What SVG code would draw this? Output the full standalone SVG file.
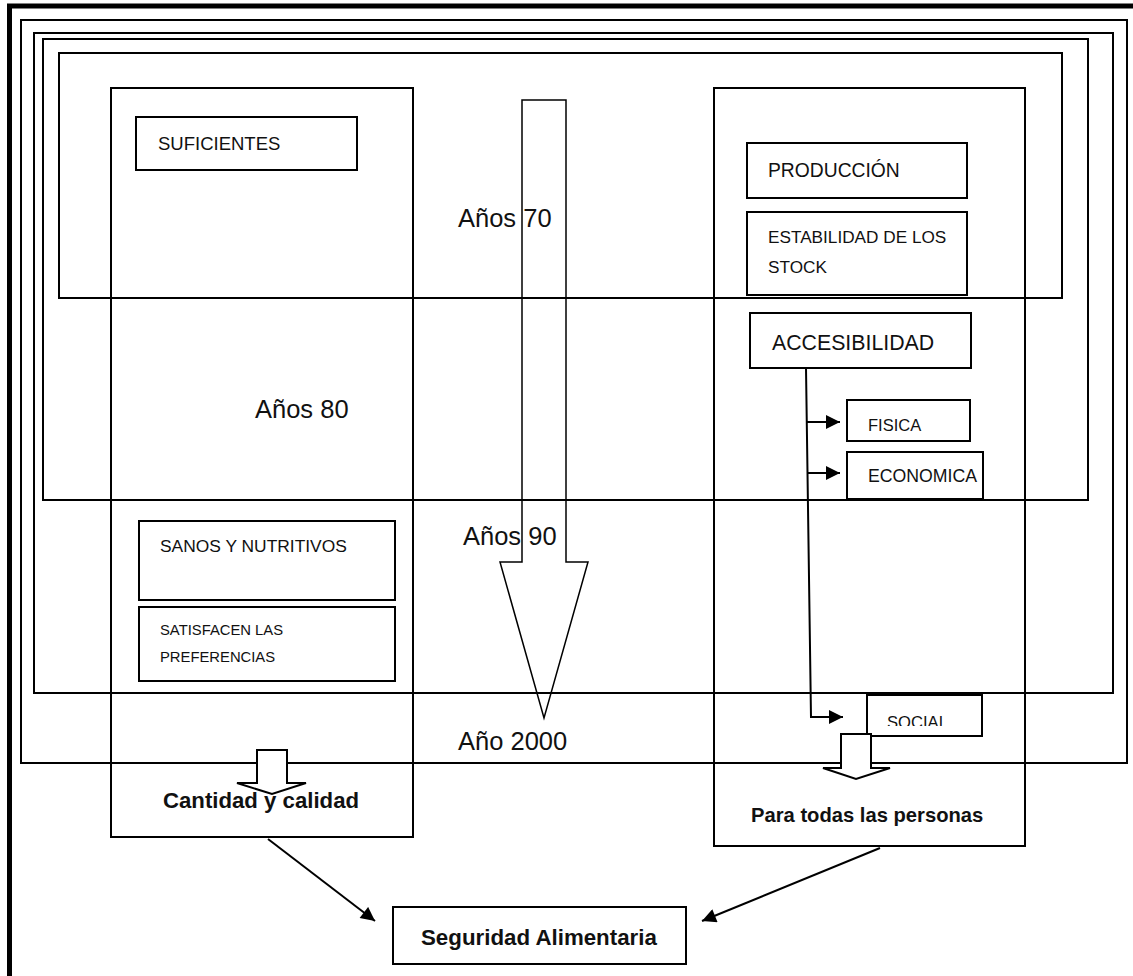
<svg xmlns="http://www.w3.org/2000/svg" width="1133" height="976" viewBox="0 0 1133 976">
<style>
.frame{fill:none;stroke:#000;stroke-width:2}
.box{fill:#fff;stroke:#000;stroke-width:2}
.t{font-family:"Liberation Sans",Arial,sans-serif;fill:#111}
.b{font-weight:bold}
.ln{fill:none;stroke:#000;stroke-width:2}
.arr{fill:#fff;stroke:#000;stroke-width:2;stroke-linejoin:miter}
</style>
<defs>
<marker id="ah" viewBox="0 0 10 10" refX="10" refY="5" markerWidth="7.5" markerHeight="7" markerUnits="strokeWidth" orient="auto">
<path d="M0,0 L10,5 L0,10 Z" fill="#000"/>
</marker>
<clipPath id="socclip"><rect x="860" y="700" width="120" height="26"/></clipPath>
</defs>
<rect width="1133" height="976" fill="#fff"/>
<g id="frames">
<rect x="9.5" y="6" width="1130" height="975" fill="none" stroke="#000" stroke-width="5"/>
<rect class="frame" x="21" y="20" width="1106" height="743"/>
<rect class="frame" x="34" y="33" width="1079" height="660"/>
<rect class="frame" x="43" y="39" width="1045" height="461"/>
<rect class="frame" x="59" y="53" width="1003" height="245"/>
</g>
<g id="col-left"><rect class="frame" x="111" y="88" width="302" height="749"/></g>
<g id="col-right"><rect class="frame" x="714" y="88" width="311" height="758"/></g>
<g id="timeline">
<polygon points="522,100 566,100 566,562 588,562 544,718 500,562 522,562" fill="none" stroke="#000" stroke-width="1.5"/>
</g>
<g id="labels">
<text class="t" x="458" y="227" font-size="25.5">Años 70</text>
<text class="t" x="255" y="418" font-size="25.5">Años 80</text>
<text class="t" x="463" y="545" font-size="25.5">Años 90</text>
<text class="t" x="458" y="750" font-size="25.5">Año 2000</text>
</g>
<g id="suficientes">
<rect class="box" x="136" y="117" width="221" height="53"/>
<text class="t" x="158" y="150" font-size="18.5">SUFICIENTES</text>
</g>
<g id="produccion">
<rect class="box" x="747" y="143" width="220" height="55"/>
<text class="t" x="768" y="177" font-size="19.3">PRODUCCIÓN</text>
</g>
<g id="estabilidad">
<rect class="box" x="747" y="212" width="220" height="83"/>
<text class="t" x="768" y="243" font-size="17.2">ESTABILIDAD DE LOS</text>
<text class="t" x="768" y="273" font-size="17.2">STOCK</text>
</g>
<g id="accesibilidad">
<rect class="box" x="750" y="313" width="221" height="55"/>
<text class="t" x="772" y="350" font-size="21.3">ACCESIBILIDAD</text>
</g>
<g id="fisica">
<rect class="box" x="847" y="400" width="123" height="41"/>
<text class="t" x="868" y="431" font-size="16.5">FISICA</text>
</g>
<g id="economica">
<rect class="box" x="847" y="452" width="136" height="47"/>
<text class="t" x="868" y="482" font-size="17.7">ECONOMICA</text>
</g>
<g id="sanos">
<rect class="box" x="139" y="521" width="256" height="79"/>
<text class="t" x="160" y="552" font-size="17.4">SANOS Y NUTRITIVOS</text>
</g>
<g id="satisfacen">
<rect class="box" x="139" y="607" width="256" height="74"/>
<text class="t" x="160" y="635" font-size="14.8">SATISFACEN LAS</text>
<text class="t" x="160" y="662" font-size="14.8">PREFERENCIAS</text>
</g>
<g id="social">
<rect class="box" x="867" y="695" width="115" height="41"/>
<text class="t" x="887" y="728" font-size="16.6" clip-path="url(#socclip)">SOCIAL</text>
</g>
<g id="seguridad">
<rect class="box" x="393" y="907" width="293" height="57"/>
<text class="t b" x="421" y="945" font-size="22.3">Seguridad Alimentaria</text>
</g>
<g id="connectors">
<polyline class="ln" points="806,368 811,717 843,717" marker-end="url(#ah)"/>
<line class="ln" x1="806" y1="422" x2="840" y2="422" marker-end="url(#ah)"/>
<line class="ln" x1="807" y1="473" x2="840" y2="473" marker-end="url(#ah)"/>
<polygon class="arr" points="257,750 287,750 287,783 306,783 272,794 237,783 257,783"/>
<polygon class="arr" points="841,734 871,734 871,768 890,768 856,779 823,768 841,768"/>
<line class="ln" x1="268" y1="839" x2="375" y2="921" marker-end="url(#ah)"/>
<line class="ln" x1="880" y1="848" x2="702" y2="921" marker-end="url(#ah)"/>
</g>
<g id="bottom-labels">
<text class="t b" x="163" y="808" font-size="22.2">Cantidad y calidad</text>
<text class="t b" x="751" y="822" font-size="20.2">Para todas las personas</text>
</g>
</svg>
